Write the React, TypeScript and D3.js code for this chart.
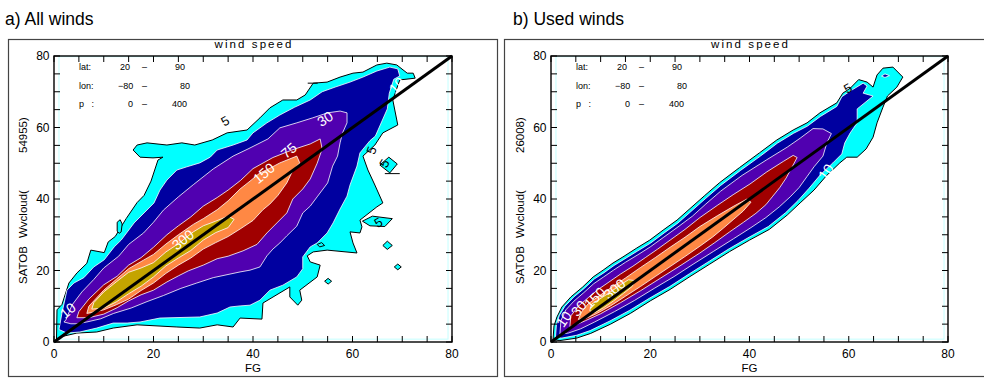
import React from "react";
import * as d3 from "d3";

// contour levels and the fill colour of the band above each one
const levelValues = [5, 10, 30, 75, 150, 300];
const levelColors = ["#00ffff", "#0000a0", "#5000b0", "#a00000", "#ff8844", "#c4a400"];
const levelStrokes = ["#000000", "#ffffff", "#ffffff", "#ffffff", "#ffffff", "#ffffff"];

const axisTicks = [0, 5, 10, 15, 20, 25, 30, 35, 40, 45, 50, 55, 60, 65, 70, 75, 80];
const axisLabels = [0, 20, 40, 60, 80];

const infoRows = [
  ["lat:", "20", "90"],
  ["lon:", "\u221280", "80"],
  ["p   :", "0", "400"],
];

// ---- a) All winds : contour outlines, [FG, SATOB]
const allWinds5 = [[0.5,0.5],[0.6,9],[1.6,10.5],[3,16.5],[4.6,19.3],[6.6,22],[7.4,25.7],[10.1,25],[10.9,28],[12.3,29.5],[14.5,34.5],[16.7,39],[18.1,41],[19.5,45],[20.9,50.9],[21.9,51.7],[19.9,51.5],[17.3,51.7],[15.9,53.7],[16.7,55.1],[18.7,55.7],[22.7,55.1],[25.7,55.7],[28.3,55.1],[31.8,56.5],[34.8,58.5],[38.8,59.3],[41.4,62.7],[43.4,65.5],[46,67.7],[48.8,67.7],[50.5,69.1],[52.1,72.4],[54.9,72.7],[57.5,74.1],[60.1,75.2],[62.1,75.5],[64.9,77.5],[66.9,78],[68.9,77.5],[71,75.2],[72.2,75.2],[72.6,73.8],[69.5,73.3],[68.1,67.7],[69.1,60.7],[66.1,58.5],[64.5,55.1],[62.1,52],[63.1,48.1],[64.5,43.9],[66.1,38.9],[64.9,37.8],[61.5,34.1],[61.9,32.2],[61.5,30.5],[59.5,30.8],[60.1,27.7],[60.9,24.9],[54.9,25.7],[52.1,25.2],[50.9,24.1],[51.5,22.4],[53.5,21.5],[52.9,18.2],[49.4,14.5],[49.8,11.7],[49,10.3],[47.4,12.6],[47.4,15.4],[42,10.9],[41.8,6.4],[37.4,6.7],[36,4.2],[32.8,4.8],[29.3,3.9],[24.7,4.2],[16.7,4.8],[11.9,3.9],[8.6,2.8],[4.6,2.5],[1.2,1.4]];
const allWinds10 = [[1,3.5],[1.6,8.1],[2.6,14.5],[4,16.5],[6,18],[8,21],[10.1,23],[12.1,26.6],[13.5,28.5],[16.1,33.3],[18.1,36.1],[20.1,38.9],[21.3,42.5],[22.7,45.3],[24.7,48.1],[26.7,49],[29.3,50.1],[31.4,51.7],[32.8,53.7],[36,55.1],[38.8,56.5],[40,58.5],[42.8,61.3],[45.4,63.5],[48.4,65.7],[51.5,67.7],[53.9,70],[56.5,71.3],[59.5,72.7],[62.1,74.1],[64.9,75.8],[67.5,76.9],[69.1,76.4],[69.5,74.4],[68.3,73.5],[67.4,69.6],[67,65.2],[64.6,57.6],[63.5,56.3],[61.5,52.9],[60.9,49.2],[59.5,43.9],[58.9,40.8],[57.5,37.2],[56.1,33.3],[54.9,30.5],[52.9,27.7],[51.5,26.6],[50,23.8],[50,20.5],[48.8,18.2],[46,15.9],[43.4,14.5],[41.4,11.7],[39.4,10.3],[37.4,10.1],[35.4,9.8],[32.8,8.1],[29.3,7],[21.3,6.7],[17.3,5.6],[14.7,5.3],[11.9,5.3],[8.6,3.9],[5.2,2.8],[2.6,2.5]];
const allWinds30 = [[2,5.6],[2.4,6.2],[3.6,10.3],[5.6,14],[8,17.5],[10,20.7],[13,24],[15,27.3],[18,30.5],[20,33.5],[22,36.9],[25,40.6],[28,44],[32,48.4],[36,52],[39,54],[43,56.8],[45.4,59.9],[48.8,61.3],[52,62.7],[55,64.1],[57.5,64.6],[58.9,64.1],[58.9,61.3],[58,58.5],[57.5,55.7],[57,52],[56,49.2],[55,44.5],[53,40.8],[51.5,38],[50,36.1],[48.8,32.4],[46.8,29.7],[45.4,27.7],[44,26],[42.8,24.1],[41.4,21],[39.4,20.1],[37.4,19.6],[32,18],[28.7,16.5],[25.5,15],[22,13],[18.7,11.3],[15.5,9.5],[12,8],[9.4,6.5],[6.6,5.6],[4.6,5.1],[3.4,5.1]];
const allWinds75 = [[4.6,6.8],[5,8.5],[7,12],[10,16],[12.7,18.4],[15,21.5],[17.5,23.6],[20,26.5],[22.7,30],[25,32.5],[27.5,35],[30,38],[32.8,40.4],[35,42.5],[37.5,45.2],[40,48.5],[44,51.6],[48,53.8],[51.5,55.4],[53.5,56.8],[53.9,54],[52.9,50],[51.5,45.6],[50,42.8],[48,40],[46.8,36.1],[44.8,33.3],[42.8,30.5],[40.8,27.3],[38,25.5],[35,24],[32.8,23.3],[30,21.5],[27,19.9],[25,18.5],[22.7,16.8],[20,14.5],[17.5,13.2],[15,11.5],[12.7,9.6],[10,7.8],[7,6.8]];
const allWinds150 = [[6.6,8],[7,10],[10,14.5],[12.5,17.5],[15,20.5],[18,22.9],[20,24.5],[22.5,27.4],[25,30],[28,32.9],[30,34.5],[32.8,37],[35,39.5],[37.4,42.8],[39.4,45],[41.4,47.3],[43.4,48.6],[45.4,50.1],[48.8,52],[49.4,50.1],[48,48],[46.8,44.5],[45,41],[43.4,38.6],[42,37],[40,34],[37.4,31.6],[35,29.5],[32.5,27.8],[30,26],[27.5,23.5],[25,21.5],[22.5,19.2],[20,16.5],[17.5,14.4],[15,12],[12.5,10.4],[10,9],[7.5,8.2]];
const allWinds300 = [[7.6,9.2],[8,11],[10,14],[12.5,16.8],[15,19.5],[17.5,20.7],[20,22.2],[22.5,25.2],[25,27.5],[28,30.8],[30,32.5],[32.5,33.8],[35,35.2],[36.2,34.3],[35,32],[32.5,30.6],[30,28.5],[27.5,25.6],[25,23.5],[22.5,21.3],[20,18.2],[17.5,15.6],[15,13.5],[12.5,11.2],[10,9.5]];
const allWindsIslands = [
  [[65.5,49.5],[67.3,51.7],[69,49.8],[67.5,47.3]],
  [[62,33.8],[64,35.2],[68,34.5],[66.5,32.3],[63.5,32.5]],
  [[66.1,27],[67,28.2],[68,27],[67,25.9]],
  [[68.4,21],[69.1,21.8],[69.8,21],[69.1,20.2]],
  [[54.4,17],[55.1,17.8],[55.8,17],[55.1,16.2]],
  [[52.9,27.3],[53.8,27.8],[54.4,27],[53.4,26.6]],
  [[12.7,31],[12.7,33.5],[13.3,34.2],[13.7,33],[13.5,30.8],[13.1,30.4]],
];
const allWindsLabels = [
  ["300", 25.9, 28.6, -38, "#ffffff"],
  ["150", 42.2, 47.2, -40, "#ffffff"],
  ["75", 47.2, 53.6, -40, "#ffffff"],
  ["30", 54.5, 62.4, -33, "#ffffff"],
  ["10", 68.9, 71.8, -48, "#ffffff"],
  ["10", 2.8, 8.8, -40, "#ffffff"],
  ["5", 63.8, 53.6, -70, "#000000"],
  ["5", 66.4, 50, -60, "#000000"],
  ["5", 65.2, 33.4, -30, "#000000"],
  ["5", 34.4, 61.8, -30, "#000000"],
];
const allWindsMarks = [[[51, 72.4], [53, 72.4]], [[66.5, 47.1], [69.5, 47.1]]];

// ---- b) Used winds
const usedWinds5 = [[0.4,0.6],[0.6,4.5],[1.2,7],[2.2,9.8],[4,12.6],[6.4,15.4],[8.5,18.2],[10.5,20.1],[12.5,22.1],[14.5,23.8],[17.3,26.3],[19.9,28.5],[22.6,31.3],[25.4,34.1],[28,37.3],[31,41],[34,44.6],[38,48.8],[42,52.9],[45.5,56.5],[48.8,59.3],[51.6,61.3],[54.2,64.1],[57.6,66.9],[58.8,69.6],[60.3,71],[62,73.4],[63.7,72.7],[64.9,71.3],[65.7,74.7],[66.9,76.6],[68.9,76.9],[70.9,74.1],[69.7,71.3],[67.8,68.8],[66.9,65.7],[65.7,61.3],[64.9,57.3],[63.5,54],[61.7,51.7],[59.6,51.7],[58.2,50.1],[55.5,46.5],[53,42.5],[50.2,38.9],[47.6,35.5],[44,31.5],[40,28.5],[36,25.3],[32,21.8],[28,18.3],[24,14.7],[20,11.5],[16,8],[12,5],[8,2.4],[5.2,1.1],[1.8,0.4]];
const usedWinds10 = [[0.9,1.2],[1.1,5],[1.7,7.5],[2.8,10],[4.6,12.6],[6.7,15],[8.7,17.6],[10.7,19.4],[12.7,21.4],[14.7,23.1],[17.5,25.5],[20.1,27.7],[22.8,30.5],[25.6,33.3],[28.2,36.5],[31.2,40.2],[34.2,43.8],[38.2,48],[42.2,52],[45.6,55.6],[48.9,58.4],[51.7,60.4],[54.3,63.1],[57.6,65.9],[58.6,68.6],[60.3,70.2],[62.9,72.4],[63.7,71.6],[62.9,69.6],[64.9,68.8],[61.7,65.2],[61.7,61.3],[60.3,58.5],[59.2,55.7],[58.6,52.6],[56.8,50.1],[54.3,46.8],[52,43],[49.8,39.6],[47.3,36.2],[43.8,32.3],[39.9,29.3],[35.9,26.1],[31.9,22.6],[27.9,19.1],[23.9,15.5],[19.9,12.3],[15.9,8.9],[11.9,5.9],[7.9,3.2],[5.2,1.9],[2.2,1.1]];
const usedWinds30 = [[1.8,2.2],[2,6],[3,9],[4.6,11.4],[6.6,13.8],[8.6,16.3],[10.6,18.2],[12.6,20.1],[15,22.3],[17.5,24.4],[20,26.6],[22.6,29.2],[25.6,32.2],[28.5,35.2],[31.2,38.6],[34.2,42.2],[38.5,46.6],[43.5,51],[47.6,54.5],[50.2,57],[52.8,59.7],[54.8,59.6],[56.5,58.3],[55.6,55.7],[54.8,52],[53,49],[51.6,46.3],[50,43.2],[48.2,40.6],[46,37.8],[43.3,34.8],[40.3,32],[36.8,28.9],[32.8,25.4],[28.8,21.9],[24.8,18.3],[20.8,15],[16.8,11.6],[12.8,8.5],[8.8,5.6],[6,3.7],[3.5,2.5]];
const usedWinds75 = [[3.8,4.3],[4,7.3],[5.5,10],[7.5,12.4],[9.5,14.7],[11.5,16.6],[14,19],[16.5,21.2],[19,23.6],[21.5,26],[24,28.5],[27,31.5],[30,34.8],[33.5,38.2],[36.7,41.2],[40.1,44.2],[43.5,47.6],[46.8,50.5],[48.8,52.2],[49.6,51.6],[48.6,49],[47.4,45.9],[46.1,43.2],[44.7,40.8],[43.3,38.4],[41.3,36],[38.8,33.5],[36,30.8],[33,27.8],[30,24.9],[26,21.3],[22,17.8],[18,14.3],[14,11],[10,7.9],[7,6],[5,4.8]];
const usedWinds150 = [[5.5,6.3],[6.2,8.5],[7.5,10.7],[9.5,12.7],[12,15.1],[15,17.9],[18,20.8],[21,23.6],[24,26.5],[27,29.3],[30,32.3],[33.5,35.3],[36.7,37.9],[39.5,40],[40.3,39.1],[38.7,36.6],[36.7,34.2],[34.7,31.8],[32.6,29.4],[30,26.8],[27,23.9],[24,21.1],[21,18.3],[18,15.5],[15,12.8],[12,10.1],[9,7.8],[7,6.6]];
const usedWinds300 = [[7.8,8.8],[8.2,10.6],[9.8,12],[11.8,13.8],[13.8,15.8],[15.6,17.4],[16.8,17.2],[16.4,15.6],[14.6,13.6],[12.6,11.5],[10.6,9.6],[8.8,8.2]];
const usedWindsHoles = [[[66.6,74.4],[67.3,75],[68.2,74.5],[67.3,74]]];
const usedWindsLabels = [
  ["10", 55.4, 47.6, -55, "#ffffff"],
  ["5", 59.8, 71, -30, "#000000"],
  ["10", 2.6, 6.4, -55, "#ffffff"],
  ["30", 5.6, 9.4, -50, "#ffffff"],
  ["150", 8.8, 12.4, -45, "#ffffff"],
  ["300", 12.8, 14.8, -40, "#ffffff"],
];

const allWindsFills = [allWinds5, allWinds10, allWinds30, allWinds75, allWinds150, allWinds300];
const usedWindsFills = [usedWinds5, usedWinds10, usedWinds30, usedWinds75, usedWinds150, usedWinds300];

const FONT = "'Liberation Sans', Arial, Helvetica, sans-serif";

function Panel({ frameX, titleX, x0, x1, title, count, fills, islands, holes, labels, marks }) {
  const top = 56;
  const bottom = 342;
  const x = d3.scaleLinear().domain([0, 80]).range([x0, x1]);
  const y = d3.scaleLinear().domain([0, 80]).range([bottom, top]);
  const closed = d3.line().x(d => x(d[0])).y(d => y(d[1])).curve(d3.curveLinearClosed);
  const open = d3.line().x(d => x(d[0])).y(d => y(d[1]));
  const cx = (x0 + x1) / 2;
  const tl = 6; // tick length

  return (
    <g fontFamily={FONT}>
      <text x={titleX} y={25} fontSize={17.5} fill="#000">{title}</text>
      <rect x={frameX + 0.5} y={39.5} width={489} height={337} fill="none" stroke="#444" strokeWidth={1.2} />
      <text x={cx} y={48} fontSize={11.5} textAnchor="middle" textLength={77} lengthAdjust="spacing">wind speed</text>

      {/* grid bound */}
      <rect x={x(1)} y={y(79.8)} width={x(79.2) - x(1)} height={y(0.8) - y(79.8)} fill="none" stroke="#c4ffff" strokeWidth={1} />

      {/* filled contours */}
      {fills.map((poly, i) => (
        <path key={levelValues[i]} d={closed(poly)} fill={levelColors[i]} stroke={levelStrokes[i]} strokeWidth={i === 0 ? 1 : 0.8} strokeLinejoin="round" />
      ))}
      {islands.map((poly, i) => (
        <path key={"is" + i} d={closed(poly)} fill={levelColors[0]} stroke="#000" strokeWidth={1} />
      ))}
      {holes.map((poly, i) => (
        <path key={"ho" + i} d={closed(poly)} fill={levelColors[1]} stroke="#fff" strokeWidth={0.8} />
      ))}
      {marks.map((seg, i) => (
        <path key={"mk" + i} d={open(seg)} fill="none" stroke="#000" strokeWidth={1} />
      ))}
      {labels.map(([t, lx, ly, a, c], i) => (
        <text key={"lb" + i} transform={`translate(${x(lx)},${y(ly)}) rotate(${a})`} textAnchor="middle" dy="0.35em"
          fontSize={t === "5" ? 13 : 14} fill={c}>{t}</text>
      ))}

      {/* one-to-one line */}
      <path d={open([[0, 0], [80, 80]])} stroke="#000" strokeWidth={3} fill="none" />

      {/* axes box and ticks */}
      <rect x={x0} y={top} width={x1 - x0} height={bottom - top} fill="none" stroke="#000" strokeWidth={1.4} />
      {axisTicks.map(t => (
        <g key={"t" + t} stroke="#000" strokeWidth={1}>
          <line x1={x(t)} x2={x(t)} y1={bottom} y2={bottom - tl} />
          <line x1={x(t)} x2={x(t)} y1={top} y2={top + tl} />
          <line x1={x0} x2={x0 + tl} y1={y(t)} y2={y(t)} />
          <line x1={x1} x2={x1 - tl} y1={y(t)} y2={y(t)} />
        </g>
      ))}
      {axisLabels.map(t => (
        <g key={"l" + t} fontSize={12} fill="#000">
          <text x={x(t)} y={bottom + 16} textAnchor="middle">{t}</text>
          <text x={x0 - 4.5} y={y(t)} dy="0.36em" textAnchor="end">{t}</text>
        </g>
      ))}
      <text x={cx} y={372} fontSize={11.5} textAnchor="middle">FG</text>
      <g fontSize={11.5}>
        <text transform={`translate(${x0 - 27},284) rotate(-90)`}>SATOB</text>
        <text transform={`translate(${x0 - 27},238) rotate(-90)`}>Wvcloud(</text>
        <text transform={`translate(${x0 - 27},153) rotate(-90)`}>{count + ")"}</text>
      </g>

      {/* selection box */}
      <g fontSize={9} fill="#000">
        {infoRows.map((r, i) => {
          const by = 70 + i * 18.5;
          const a = [66, 64, 74][i];
          const b = [121, 126, 118][i];
          return (
            <g key={r[0]}>
              <text x={x0 + 25} y={by} xmlSpace="preserve" style={{ whiteSpace: "pre" }}>{r[0]}</text>
              <text x={x0 + a} y={by}>{r[1]}</text>
              <text x={x0 + 88} y={by}>{"\u2013"}</text>
              <text x={x0 + b} y={by}>{r[2]}</text>
            </g>
          );
        })}
      </g>
    </g>
  );
}

export default function App() {
  return (
    <svg width={984} height={378} style={{ position: "absolute", left: 0, top: 0, background: "#fff" }}>
      <rect width={984} height={378} fill="#fff" />
      <Panel frameX={8} titleX={5} x0={54} x1={452} title="a) All winds" count="54955"
        fills={allWindsFills} islands={allWindsIslands} holes={[]} labels={allWindsLabels} marks={allWindsMarks} />
      <Panel frameX={504} titleX={513} x0={551} x1={948} title="b) Used winds" count="26008"
        fills={usedWindsFills} islands={[]} holes={usedWindsHoles} labels={usedWindsLabels} marks={[]} />
    </svg>
  );
}
